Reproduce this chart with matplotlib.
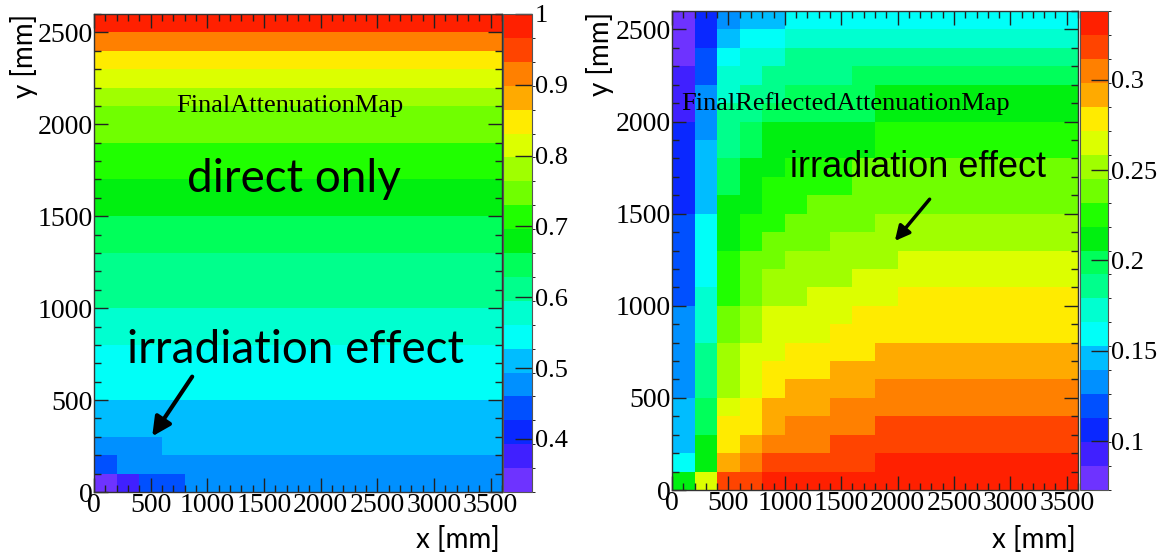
import matplotlib
matplotlib.use("Agg")
import numpy as np
import matplotlib.pyplot as plt
from matplotlib.colors import ListedColormap, BoundaryNorm

plt.rcParams["font.family"] = "Liberation Serif"

# bin edges [mm]
x_edges = [0, 200, 400, 600, 800, 1000, 1200, 1400, 1600, 1800, 2000, 2200, 2400, 2600, 2800, 3000, 3200, 3400, 3600]
y_edges = [0, 100, 200, 300, 400, 500, 600, 700, 800, 900, 1000, 1100, 1200, 1300, 1400, 1500, 1600, 1700, 1800,
           1900, 2000, 2100, 2200, 2300, 2400, 2500, 2600]

# FinalAttenuationMap, one row per y bin (bottom row first), 18 x bins each
direct_map = [
    [0.34, 0.38, 0.44, 0.44, 0.48, 0.48, 0.48, 0.48, 0.48, 0.48, 0.48, 0.48, 0.48, 0.48, 0.48, 0.48, 0.48, 0.48],
    [0.44, 0.48, 0.48, 0.48, 0.48, 0.48, 0.48, 0.48, 0.48, 0.48, 0.48, 0.48, 0.48, 0.48, 0.48, 0.48, 0.48, 0.48],
    [0.48, 0.48, 0.48, 0.51, 0.51, 0.51, 0.51, 0.51, 0.51, 0.51, 0.51, 0.51, 0.51, 0.51, 0.51, 0.51, 0.51, 0.51],
    [0.51, 0.51, 0.51, 0.51, 0.51, 0.51, 0.51, 0.51, 0.51, 0.51, 0.51, 0.51, 0.51, 0.51, 0.51, 0.51, 0.51, 0.51],
    [0.51, 0.51, 0.51, 0.51, 0.51, 0.51, 0.51, 0.51, 0.51, 0.51, 0.51, 0.51, 0.51, 0.51, 0.51, 0.51, 0.51, 0.51],
    [0.54, 0.54, 0.54, 0.54, 0.54, 0.54, 0.54, 0.54, 0.54, 0.54, 0.54, 0.54, 0.54, 0.54, 0.54, 0.54, 0.54, 0.54],
    [0.54, 0.54, 0.54, 0.54, 0.54, 0.54, 0.54, 0.54, 0.54, 0.54, 0.54, 0.54, 0.54, 0.54, 0.54, 0.54, 0.54, 0.54],
    [0.54, 0.54, 0.54, 0.54, 0.54, 0.54, 0.54, 0.54, 0.54, 0.54, 0.54, 0.54, 0.54, 0.54, 0.54, 0.54, 0.54, 0.54],
    [0.58, 0.58, 0.58, 0.58, 0.58, 0.58, 0.58, 0.58, 0.58, 0.58, 0.58, 0.58, 0.58, 0.58, 0.58, 0.58, 0.58, 0.58],
    [0.58, 0.58, 0.58, 0.58, 0.58, 0.58, 0.58, 0.58, 0.58, 0.58, 0.58, 0.58, 0.58, 0.58, 0.58, 0.58, 0.58, 0.58],
    [0.61, 0.61, 0.61, 0.61, 0.61, 0.61, 0.61, 0.61, 0.61, 0.61, 0.61, 0.61, 0.61, 0.61, 0.61, 0.61, 0.61, 0.61],
    [0.61, 0.61, 0.61, 0.61, 0.61, 0.61, 0.61, 0.61, 0.61, 0.61, 0.61, 0.61, 0.61, 0.61, 0.61, 0.61, 0.61, 0.61],
    [0.61, 0.61, 0.61, 0.61, 0.61, 0.61, 0.61, 0.61, 0.61, 0.61, 0.61, 0.61, 0.61, 0.61, 0.61, 0.61, 0.61, 0.61],
    [0.65, 0.65, 0.65, 0.65, 0.65, 0.65, 0.65, 0.65, 0.65, 0.65, 0.65, 0.65, 0.65, 0.65, 0.65, 0.65, 0.65, 0.65],
    [0.65, 0.65, 0.65, 0.65, 0.65, 0.65, 0.65, 0.65, 0.65, 0.65, 0.65, 0.65, 0.65, 0.65, 0.65, 0.65, 0.65, 0.65],
    [0.68, 0.68, 0.68, 0.68, 0.68, 0.68, 0.68, 0.68, 0.68, 0.68, 0.68, 0.68, 0.68, 0.68, 0.68, 0.68, 0.68, 0.68],
    [0.68, 0.68, 0.68, 0.68, 0.68, 0.68, 0.68, 0.68, 0.68, 0.68, 0.68, 0.68, 0.68, 0.68, 0.68, 0.68, 0.68, 0.68],
    [0.71, 0.71, 0.71, 0.71, 0.71, 0.71, 0.71, 0.71, 0.71, 0.71, 0.71, 0.71, 0.71, 0.71, 0.71, 0.71, 0.71, 0.71],
    [0.71, 0.71, 0.71, 0.71, 0.71, 0.71, 0.71, 0.71, 0.71, 0.71, 0.71, 0.71, 0.71, 0.71, 0.71, 0.71, 0.71, 0.71],
    [0.75, 0.75, 0.75, 0.75, 0.75, 0.75, 0.75, 0.75, 0.75, 0.75, 0.75, 0.75, 0.75, 0.75, 0.75, 0.75, 0.75, 0.75],
    [0.75, 0.75, 0.75, 0.75, 0.75, 0.75, 0.75, 0.75, 0.75, 0.75, 0.75, 0.75, 0.75, 0.75, 0.75, 0.75, 0.75, 0.75],
    [0.78, 0.78, 0.78, 0.78, 0.78, 0.78, 0.78, 0.78, 0.78, 0.78, 0.78, 0.78, 0.78, 0.78, 0.78, 0.78, 0.78, 0.78],
    [0.81, 0.81, 0.81, 0.81, 0.81, 0.81, 0.81, 0.81, 0.81, 0.81, 0.81, 0.81, 0.81, 0.81, 0.81, 0.81, 0.81, 0.81],
    [0.85, 0.85, 0.85, 0.85, 0.85, 0.85, 0.85, 0.85, 0.85, 0.85, 0.85, 0.85, 0.85, 0.85, 0.85, 0.85, 0.85, 0.85],
    [0.92, 0.92, 0.92, 0.92, 0.92, 0.92, 0.92, 0.92, 0.92, 0.92, 0.92, 0.92, 0.92, 0.92, 0.92, 0.92, 0.92, 0.92],
    [0.99, 0.99, 0.99, 0.99, 0.99, 0.99, 0.99, 0.99, 0.99, 0.99, 0.99, 0.99, 0.99, 0.99, 0.99, 0.99, 0.99, 0.99],
]

# FinalReflectedAttenuationMap, same binning
reflected_map = [
    [0.212, 0.265, 0.318, 0.318, 0.331, 0.331, 0.331, 0.331, 0.331, 0.331, 0.331, 0.331, 0.331, 0.331, 0.331, 0.331, 0.331, 0.331],
    [0.159, 0.212, 0.292, 0.305, 0.318, 0.318, 0.318, 0.318, 0.318, 0.331, 0.331, 0.331, 0.331, 0.331, 0.331, 0.331, 0.331, 0.331],
    [0.146, 0.212, 0.278, 0.292, 0.305, 0.305, 0.305, 0.318, 0.318, 0.318, 0.318, 0.318, 0.318, 0.318, 0.318, 0.318, 0.318, 0.318],
    [0.146, 0.199, 0.278, 0.278, 0.292, 0.305, 0.305, 0.305, 0.305, 0.318, 0.318, 0.318, 0.318, 0.318, 0.318, 0.318, 0.318, 0.318],
    [0.146, 0.199, 0.265, 0.278, 0.292, 0.292, 0.292, 0.305, 0.305, 0.305, 0.305, 0.305, 0.305, 0.305, 0.305, 0.305, 0.305, 0.305],
    [0.133, 0.186, 0.252, 0.265, 0.278, 0.292, 0.292, 0.292, 0.292, 0.305, 0.305, 0.305, 0.305, 0.305, 0.305, 0.305, 0.305, 0.305],
    [0.133, 0.186, 0.252, 0.265, 0.278, 0.278, 0.278, 0.292, 0.292, 0.292, 0.292, 0.292, 0.292, 0.292, 0.292, 0.292, 0.292, 0.292],
    [0.133, 0.186, 0.252, 0.265, 0.265, 0.278, 0.278, 0.278, 0.278, 0.292, 0.292, 0.292, 0.292, 0.292, 0.292, 0.292, 0.292, 0.292],
    [0.133, 0.172, 0.239, 0.252, 0.265, 0.265, 0.265, 0.278, 0.278, 0.278, 0.278, 0.278, 0.278, 0.278, 0.278, 0.278, 0.278, 0.278],
    [0.133, 0.172, 0.239, 0.252, 0.265, 0.265, 0.265, 0.265, 0.278, 0.278, 0.278, 0.278, 0.278, 0.278, 0.278, 0.278, 0.278, 0.278],
    [0.119, 0.172, 0.225, 0.239, 0.252, 0.252, 0.265, 0.265, 0.265, 0.265, 0.278, 0.278, 0.278, 0.278, 0.278, 0.278, 0.278, 0.278],
    [0.119, 0.159, 0.225, 0.239, 0.252, 0.252, 0.252, 0.252, 0.265, 0.265, 0.265, 0.265, 0.265, 0.265, 0.265, 0.265, 0.265, 0.265],
    [0.119, 0.159, 0.225, 0.239, 0.239, 0.252, 0.252, 0.252, 0.252, 0.252, 0.265, 0.265, 0.265, 0.265, 0.265, 0.265, 0.265, 0.265],
    [0.119, 0.159, 0.212, 0.225, 0.239, 0.239, 0.239, 0.252, 0.252, 0.252, 0.252, 0.252, 0.252, 0.252, 0.252, 0.252, 0.252, 0.252],
    [0.119, 0.159, 0.212, 0.225, 0.225, 0.239, 0.239, 0.239, 0.239, 0.252, 0.252, 0.252, 0.252, 0.252, 0.252, 0.252, 0.252, 0.252],
    [0.106, 0.146, 0.212, 0.212, 0.225, 0.225, 0.239, 0.239, 0.239, 0.239, 0.239, 0.239, 0.239, 0.239, 0.239, 0.239, 0.239, 0.239],
    [0.106, 0.146, 0.199, 0.212, 0.225, 0.225, 0.225, 0.225, 0.239, 0.239, 0.239, 0.239, 0.239, 0.239, 0.239, 0.239, 0.239, 0.239],
    [0.106, 0.146, 0.199, 0.212, 0.212, 0.225, 0.225, 0.225, 0.239, 0.239, 0.239, 0.239, 0.239, 0.239, 0.239, 0.239, 0.239, 0.239],
    [0.106, 0.146, 0.186, 0.199, 0.212, 0.212, 0.212, 0.212, 0.212, 0.225, 0.225, 0.225, 0.225, 0.225, 0.225, 0.225, 0.225, 0.225],
    [0.106, 0.133, 0.186, 0.199, 0.212, 0.212, 0.212, 0.212, 0.212, 0.225, 0.225, 0.225, 0.225, 0.225, 0.225, 0.225, 0.225, 0.225],
    [0.093, 0.133, 0.186, 0.186, 0.199, 0.199, 0.199, 0.199, 0.199, 0.212, 0.212, 0.212, 0.212, 0.212, 0.212, 0.212, 0.212, 0.212],
    [0.093, 0.133, 0.172, 0.186, 0.186, 0.199, 0.199, 0.199, 0.199, 0.212, 0.212, 0.212, 0.212, 0.212, 0.212, 0.212, 0.212, 0.212],
    [0.093, 0.119, 0.172, 0.172, 0.186, 0.186, 0.186, 0.186, 0.199, 0.199, 0.199, 0.199, 0.199, 0.199, 0.199, 0.199, 0.199, 0.199],
    [0.080, 0.119, 0.159, 0.172, 0.172, 0.186, 0.186, 0.186, 0.186, 0.186, 0.186, 0.186, 0.186, 0.186, 0.186, 0.186, 0.186, 0.186],
    [0.080, 0.106, 0.146, 0.159, 0.159, 0.172, 0.172, 0.172, 0.172, 0.172, 0.172, 0.172, 0.172, 0.172, 0.172, 0.172, 0.172, 0.172],
    [0.080, 0.106, 0.133, 0.146, 0.146, 0.159, 0.159, 0.159, 0.159, 0.159, 0.159, 0.159, 0.159, 0.159, 0.159, 0.159, 0.159, 0.159],
]

direct_range = (0.325, 1.0)
reflected_range = (0.073, 0.338)
direct_cbar_ticks = [0.4, 0.5, 0.6, 0.7, 0.8, 0.9, 1.0]
direct_cbar_labels = ["0.4", "0.5", "0.6", "0.7", "0.8", "0.9", "1"]
reflected_cbar_ticks = [0.1, 0.15, 0.2, 0.25, 0.3]
reflected_cbar_labels = ["0.1", "0.15", "0.2", "0.25", "0.3"]

# ROOT-like "pretty" palette, 20 contour levels
palette = ["#6e33ff", "#4020ff", "#0a28ff", "#0050ff", "#0090ff", "#00bdff", "#00fff8", "#00ffd0",
           "#00ff8c", "#00ff5a", "#00f010", "#20ff00", "#70ff00", "#a0ff00", "#dcff00", "#ffeb00",
           "#ffaa00", "#ff8000", "#ff4400", "#ff2000"]
cmap = ListedColormap(palette)

W, H = 1159, 556


def px_rect(x0, y0, x1, y1):
    return [x0 / W, 1 - y1 / H, (x1 - x0) / W, (y1 - y0) / H]


def draw_panel(ax, cax, values, zrange, ticks, labels, title, title_x):
    bounds = np.linspace(zrange[0], zrange[1], 21)
    norm = BoundaryNorm(bounds, cmap.N)
    mesh = ax.pcolormesh(x_edges, y_edges, np.array(values), cmap=cmap, norm=norm)
    ax.set_xlim(0, 3600)
    ax.set_ylim(0, 2600)
    ax.set_xticks([0, 500, 1000, 1500, 2000, 2500, 3000, 3500])
    ax.set_yticks([0, 500, 1000, 1500, 2000, 2500])
    ax.set_xticks(np.arange(0, 3601, 100), minor=True)
    ax.set_yticks(np.arange(0, 2601, 100), minor=True)
    ax.tick_params(which="both", direction="in", top=True, right=True, width=1.0, color="#222222")
    ax.tick_params(which="major", length=10, labelsize=20, pad=1)
    ax.tick_params(which="minor", length=5)
    for sp in ax.spines.values():
        sp.set_linewidth(1.0)
        sp.set_color("#333333")
    ax.text(title_x, 2100, title, fontsize=19, ha="center", va="center")

    cb = plt.colorbar(mesh, cax=cax, ticks=ticks)
    cb.ax.set_yticklabels(labels)
    cb.ax.tick_params(direction="in", length=12, width=1.0, labelsize=19, pad=2, color="#222222")
    cb.outline.set_linewidth(0.8)
    cb.outline.set_edgecolor("#555555")
    return mesh


fig = plt.figure(figsize=(W / 100, H / 100), dpi=100)

ax1 = fig.add_axes(px_rect(94, 14, 502, 492))
cax1 = fig.add_axes(px_rect(503, 14, 532, 492))
ax2 = fig.add_axes(px_rect(672, 11, 1078, 490))
cax2 = fig.add_axes(px_rect(1080, 11, 1108, 490))

draw_panel(ax1, cax1, direct_map, direct_range, direct_cbar_ticks, direct_cbar_labels,
           "FinalAttenuationMap", 1730)
draw_panel(ax2, cax2, reflected_map, reflected_range, reflected_cbar_ticks, reflected_cbar_labels,
           "FinalReflectedAttenuationMap", 1540)

# axis titles, ROOT style (right / top aligned)
fig.text(24 / W, 1 - 14 / H, "y [mm]", rotation=90, ha="center", va="top", fontsize=20, family="Lato")
fig.text(600 / W, 1 - 12 / H, "y [mm]", rotation=90, ha="center", va="top", fontsize=20, family="Lato")
fig.text(500 / W, 1 - 553 / H, "x [mm]", ha="right", va="bottom", fontsize=20, family="Lato")
fig.text(1076 / W, 1 - 553 / H, "x [mm]", ha="right", va="bottom", fontsize=20, family="Lato")

# annotations
ax1.text(1760, 1700, "direct only", fontsize=33, family="Lato", ha="center", va="center")
ax1.text(1780, 770, "irradiation effect", fontsize=33, family="Lato", ha="center", va="center")
ax1.annotate("", xy=(500, 290), xytext=(880, 640),
             arrowprops=dict(arrowstyle="-|>", lw=3, color="black", mutation_scale=28))
ax2.text(2180, 1750, "irradiation effect", fontsize=26, family="Liberation Sans", ha="center", va="center")
ax2.annotate("", xy=(1960, 1340), xytext=(2300, 1590),
             arrowprops=dict(arrowstyle="-|>", lw=2.5, color="black", mutation_scale=22))

fig.savefig("out.png", dpi=100)
